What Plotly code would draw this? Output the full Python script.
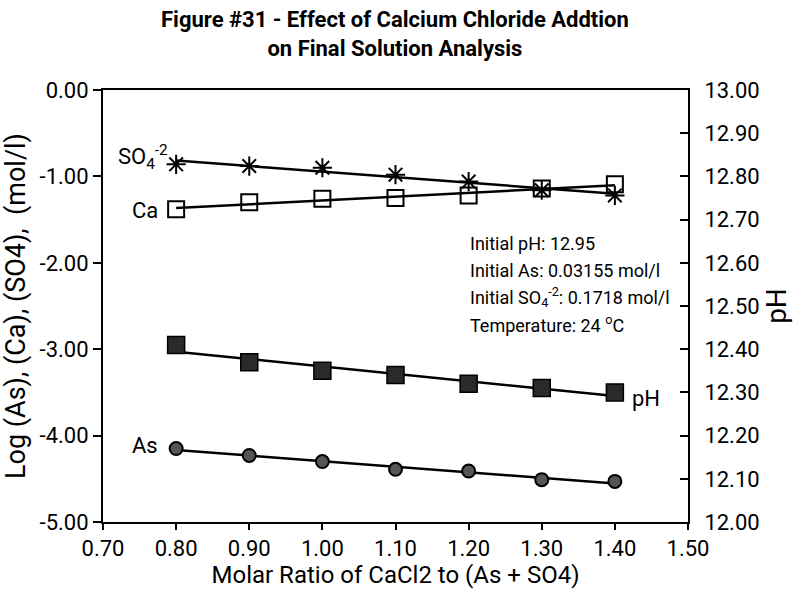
import numpy as np
import plotly.graph_objects as go

# ---- data ----
ratio = [0.80, 0.90, 1.00, 1.10, 1.20, 1.30, 1.40]
log_so4 = [-0.86, -0.88, -0.90, -0.98, -1.06, -1.16, -1.22]
log_ca = [-1.38, -1.30, -1.26, -1.25, -1.22, -1.14, -1.09]
log_as = [-4.15, -4.23, -4.30, -4.39, -4.41, -4.51, -4.53]
ph = [12.41, 12.37, 12.35, 12.34, 12.32, 12.31, 12.30]

x_ticks = [0.70, 0.80, 0.90, 1.00, 1.10, 1.20, 1.30, 1.40, 1.50]
y_ticks = [0.0, -1.0, -2.0, -3.0, -4.0, -5.0]
ph_ticks = [12.0, 12.1, 12.2, 12.3, 12.4, 12.5, 12.6, 12.7, 12.8, 12.9, 13.0]

FONT = "Roboto, Liberation Sans Narrow, sans-serif"

fig = go.Figure()


def fit_line(xs, ys):
    m, b = np.polyfit(xs, ys, 1)
    xe = [min(xs), max(xs)]
    return xe, [m * v + b for v in xe]


def add_series(ys, marker, yaxis="y"):
    xe, ye = fit_line(ratio, ys)
    fig.add_trace(go.Scatter(x=xe, y=ye, mode="lines", yaxis=yaxis,
                             line=dict(color="black", width=2.5),
                             showlegend=False, hoverinfo="skip"))
    fig.add_trace(go.Scatter(x=ratio, y=ys, mode="markers", yaxis=yaxis,
                             marker=marker, showlegend=False))


add_series(log_so4, dict(symbol="asterisk-open", size=16, color="black",
                         line=dict(color="black", width=2)))
add_series(log_ca, dict(symbol="square-open", size=16, color="black",
                        line=dict(color="black", width=2)))
add_series(log_as, dict(symbol="circle", size=13, color="#555555",
                        line=dict(color="black", width=2)))
add_series(ph, dict(symbol="square", size=17, color="#2a2a2a",
                    line=dict(color="black", width=1.5)), yaxis="y2")

ann_font = dict(family=FONT, size=22, color="black")
info_font = dict(family=FONT, size=18, color="black")
annotations = [
    dict(x=0.755, y=-0.78, xref="x", yref="y", text="SO<sub>4</sub><sup>-2</sup>",
         showarrow=False, font=ann_font),
    dict(x=0.757, y=-1.40, xref="x", yref="y", text="Ca",
         showarrow=False, font=ann_font),
    dict(x=0.757, y=-4.12, xref="x", yref="y", text="As",
         showarrow=False, font=ann_font),
    dict(x=1.443, y=12.285, xref="x", yref="y2", text="pH",
         showarrow=False, font=ann_font),
    dict(x=0.499, y=1.197, xref="paper", yref="paper", yanchor="top",
         text="<b>Figure #31 - Effect of Calcium Chloride Addtion<br>on Final Solution Analysis</b>",
         showarrow=False, font=dict(family=FONT, size=22, color="black")),
]
info_lines = [
    "Initial pH: 12.95",
    "Initial As: 0.03155 mol/l",
    "Initial SO<sub>4</sub><sup>-2</sup>: 0.1718 mol/l",
    "Temperature: 24 <sup>o</sup>C",
]
for i, t in enumerate(info_lines):
    annotations.append(dict(x=1.199, y=-1.78 - i * 0.31, xref="x", yref="y",
                            text=t, showarrow=False, xanchor="left",
                            font=info_font))

fig.update_layout(
    width=800, height=595,
    margin=dict(l=103, r=112, t=90, b=73),
    paper_bgcolor="white", plot_bgcolor="white",
    font=dict(family=FONT, size=22, color="black"),
    xaxis=dict(range=[0.70, 1.50], tickvals=x_ticks,
               ticktext=[f"{v:.2f}" for v in x_ticks],
               showgrid=False, zeroline=False, showline=True, linecolor="black",
               linewidth=2, mirror=True, ticks="outside", ticklen=6,
               tickwidth=1.5, tickcolor="black",
               tickfont=dict(family=FONT, size=22),
               title=dict(text="Molar Ratio of CaCl2 to (As + SO4)",
                          font=dict(family=FONT, size=24), standoff=2)),
    yaxis=dict(range=[-5.0, 0.0], tickvals=y_ticks,
               ticktext=[f"{v:.2f}" for v in y_ticks],
               showgrid=False, zeroline=False, showline=True, linecolor="black",
               linewidth=2, ticks="outside", ticklen=8, tickwidth=1.5,
               tickcolor="black", tickfont=dict(family=FONT, size=22),
               title=dict(text="Log (As), (Ca), (SO4),  (mol/l)",
                          font=dict(family=FONT, size=27), standoff=6)),
    yaxis2=dict(range=[12.0, 13.0], tickvals=ph_ticks,
                ticktext=[f"{v:.2f}" for v in ph_ticks],
                overlaying="y", side="right", showgrid=False, zeroline=False,
                showline=True, linecolor="black", linewidth=2,
                ticks="inside", ticklen=8, tickwidth=1.5, tickcolor="black",
                ticklabelstandoff=10,
                tickfont=dict(family=FONT, size=22),
                title=dict(text="pH", font=dict(family=FONT, size=28), standoff=6)),
    annotations=annotations,
)

fig.write_html("out.html")
